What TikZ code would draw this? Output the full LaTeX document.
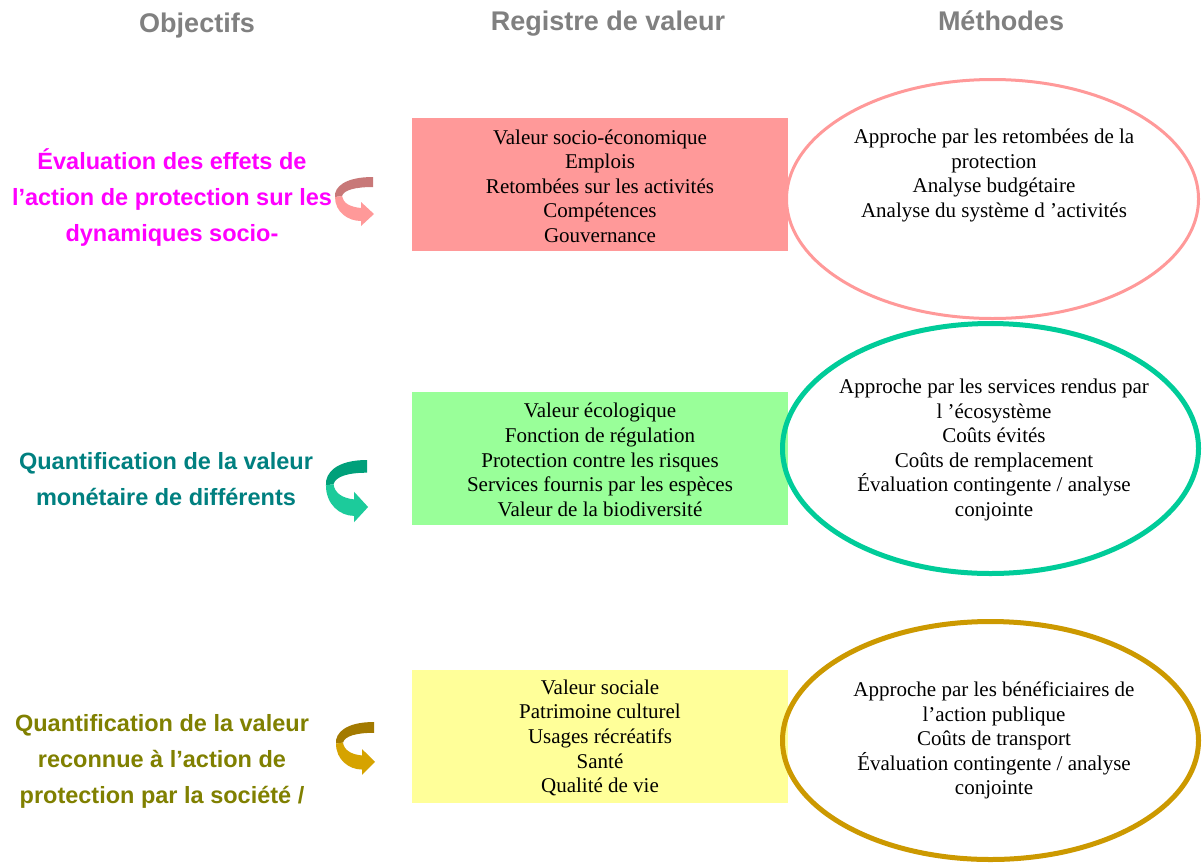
\documentclass[tikz,border=0pt]{standalone}
\usepackage{fontspec}
\setmainfont{Liberation Serif}
\newfontfamily\hdfont{Liberation Sans}
\usetikzlibrary{shapes.geometric}
\definecolor{hdgray}{HTML}{808080}
\definecolor{magobj}{HTML}{FF00FF}
\definecolor{tealobj}{HTML}{008080}
\definecolor{oliveobj}{HTML}{808000}
\definecolor{boxa}{HTML}{FF9999}
\definecolor{boxb}{HTML}{99FF99}
\definecolor{boxc}{HTML}{FFFF99}
\definecolor{ella}{HTML}{FF9999}
\definecolor{ellb}{HTML}{00CC99}
\definecolor{ellc}{HTML}{CC9900}
\definecolor{arradark}{HTML}{C87878}
\definecolor{arralight}{HTML}{FF9999}
\definecolor{arrbdark}{HTML}{00A07A}
\definecolor{arrblight}{HTML}{1CCB9B}
\definecolor{arrcdark}{HTML}{A37A00}
\definecolor{arrclight}{HTML}{D6A300}
\newcommand\uturnarrow[2]{%
  \fill[#1] (0,0) .. controls (-28,0) and (-39,10) .. (-38,20) -- (-31,19)
     .. controls (-29,13) and (-18,10) .. (0,10) -- cycle;
  \fill[#2] (-31,19) -- (-38,20) .. controls (-38,35) and (-25,44) .. (-12,44)
     -- (-12,49) -- (1,37) -- (-12,25) -- (-12,31)
     .. controls (-23,30) and (-30,26) .. (-31,19) -- cycle;}
\tikzset{
  header/.style={font=\hdfont\bfseries\fontsize{27}{30}\selectfont, text=hdgray, anchor=base},
  objtext/.style={font=\hdfont\bfseries\fontsize{23.5}{36}\selectfont, align=center, inner sep=0},
  valbox/.style={minimum width=376, minimum height=133, inner sep=0, align=center,
     font=\fontsize{21}{24.6}\selectfont},
  methell/.style={ellipse, inner sep=0},
  methtext/.style={align=center, inner sep=0, font=\fontsize{21}{24.6}\selectfont},
}
\begin{document}
\begin{tikzpicture}[x=1pt,y=-1pt]
\useasboundingbox[fill=white] (0,0) rectangle (1204,863);
% headers
\node[header] (h1) at (197,32) {Objectifs};
\node[header] (h2) at (608,30) {Registre de valeur};
\node[header] (h3) at (1001,30) {Méthodes};
% curved arrows
\begin{scope}[shift={(373,177)}]
  \uturnarrow{arradark}{arralight}
\end{scope}
\begin{scope}[shift={(367,460)}, xscale=1.08, yscale=1.27]
  \uturnarrow{arrbdark}{arrblight}
\end{scope}
\begin{scope}[shift={(374,722)}, xscale=1.0, yscale=1.08]
  \uturnarrow{arrcdark}{arrclight}
\end{scope}
% objectives
\node[objtext, text=magobj] (o1) at (172,198) {Évaluation des effets de\\l’action de protection sur les\\dynamiques socio-};
\node[objtext, text=tealobj] (o2) at (166,479.5) {Quantification de la valeur\\monétaire de différents};
\node[objtext, text=oliveobj] (o3) at (162,761) {Quantification de la valeur\\reconnue à l’action de\\protection par la société /};
% value boxes
\node[valbox, fill=boxa] (v1) at (600,184.5) {};
\node[valbox, fill=boxb] (v2) at (600,458.5) {};
\node[valbox, fill=boxc] (v3) at (600,736.5) {};
\node[methtext] (vt1) at (v1.center) [yshift=-1.5] {Valeur socio-économique\\Emplois\\Retombées sur les activités\\Compétences\\Gouvernance};
\node[methtext] (vt2) at (v2.center) [yshift=-1.5] {Valeur écologique\\Fonction de régulation\\Protection contre les risques\\Services fournis par les espèces\\Valeur de la biodiversité};
\node[methtext] (vt3) at (v3.center) [yshift=-1.5] {Valeur sociale\\Patrimoine culturel\\Usages récréatifs\\Santé\\Qualité de vie};
% method ellipses
\node[methell, draw=ella, line width=3, minimum width=412, minimum height=239] (m1) at (992.5,199) {};
\node[methell, draw=ellb, line width=5, minimum width=416, minimum height=250] (m2) at (990.5,448.5) {};
\node[methell, draw=ellc, line width=5, minimum width=416, minimum height=238] (m3) at (990.5,740.5) {};
\node[methtext] (t1) at (994,175.5) {Approche par les retombées de la\\protection\\Analyse budgétaire\\Analyse du système d ’activités};
\node[methtext] (t2) at (994,450) {Approche par les services rendus par\\l ’écosystème\\Coûts évités\\Coûts de remplacement\\Évaluation contingente / analyse\\conjointe};
\node[methtext] (t3) at (994,740.5) {Approche par les bénéficiaires de\\l’action publique\\Coûts de transport\\Évaluation contingente / analyse\\conjointe};
\end{tikzpicture}
\end{document}
